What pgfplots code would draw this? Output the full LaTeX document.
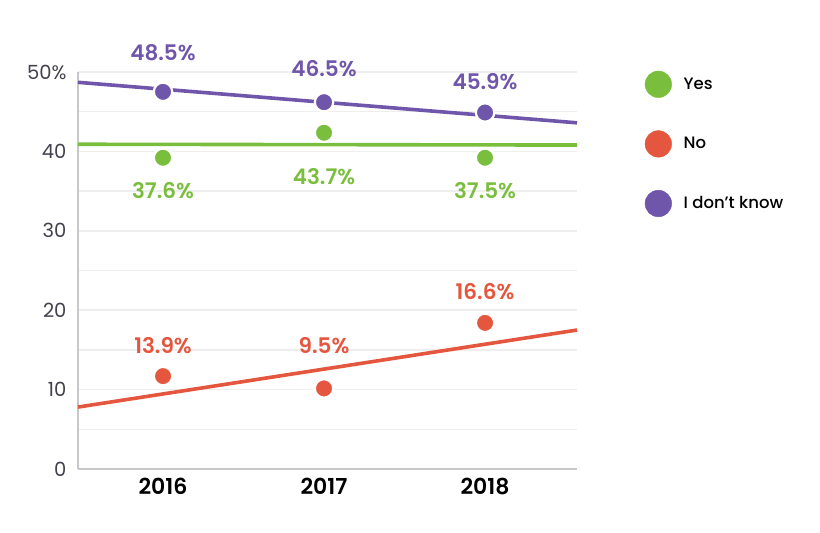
\documentclass[border=0pt]{standalone}
\usepackage{fontspec}
\setmainfont{Poppins}
\newfontfamily\semib{Poppins SemiBold}
\newfontfamily\med{Poppins Medium}
\usepackage{pgfplots}
\pgfplotsset{compat=1.18}

\definecolor{cyes}{RGB}{122,190,62}
\definecolor{cno}{RGB}{229,86,62}
\definecolor{cidk}{RGB}{111,86,170}
\definecolor{axisgray}{RGB}{200,200,200}
\definecolor{gridgray}{RGB}{238,238,238}
\definecolor{ticklab}{RGB}{66,66,78}

\begin{document}
\begin{tikzpicture}
\begin{axis}[
  scale only axis, width=499pt, height=397pt, % plot box as in the image
  xmin=-0.528, xmax=2.571, ymin=0, ymax=50,
  axis x line=bottom, axis y line=left,
  axis line style={-, draw=axisgray, line width=1.6pt},
  xtick={0,1,2}, xticklabels={2016,2017,2018},
  ytick={0,10,20,30,40,50}, yticklabels={0,10,20,30,40,50\%},
  minor ytick={5,15,25,35,45},
  major tick length=0pt, minor tick length=0pt,
  ymajorgrids, yminorgrids,
  grid style={draw=gridgray, line width=1.5pt},
  minor grid style={draw=gridgray, line width=1.5pt},
  /pgf/number format/assume math mode=true,
  yticklabel style={font=\fontsize{19.5}{21}\selectfont, text=ticklab, anchor=east, xshift=-8pt},
  xticklabel style={font=\semib\fontsize{22}{24}\selectfont, text=black, yshift=-6pt},
  clip=false,
  legend cell align=left,
  legend image code/.code={\draw[#1, mark size=13.3pt, mark options={draw=none}] plot coordinates {(0pt,0pt)};},
  legend style={draw=none, fill=none, at={(1.136,1.003)}, anchor=north west,
    inner sep=0pt, row sep=33pt, column sep=12pt,
    font=\med\fontsize{16.5}{18}\selectfont, nodes={inner sep=0pt}},
]
% trend lines
\addplot[forget plot, cidk, line width=3.6pt] coordinates {(-0.528,48.7) (2.571,43.6)};
\addplot[forget plot, cyes, line width=3.6pt] coordinates {(-0.528,40.9) (2.571,40.8)};
\addplot[forget plot, cno, line width=3.6pt] coordinates {(-0.528,7.8) (2.571,17.5)};

% points
\addplot[only marks, mark=*, color=cyes, mark size=9.2pt, mark options={draw=white, line width=2.2pt}]
  coordinates {(0,39.2) (1,42.35) (2,39.2)};
\addlegendentry{Yes}
\addplot[only marks, mark=*, color=cno, mark size=9.2pt, mark options={draw=white, line width=2.2pt}]
  coordinates {(0,11.7) (1,10.15) (2,18.4)};
\addlegendentry{No}
\addplot[only marks, mark=*, color=cidk, mark size=9.2pt, mark options={draw=white, line width=2.2pt}]
  coordinates {(0,47.5) (1,46.2) (2,44.9)};
\addlegendentry{I don’t know}

% value labels
\begin{scope}[every node/.style={font=\semib\fontsize{21.5}{23}\selectfont}]
\node[text=cidk] at (axis cs:0,52.45) {48.5\%};
\node[text=cidk] at (axis cs:1,50.4) {46.5\%};
\node[text=cidk] at (axis cs:2,48.8) {45.9\%};
\node[text=cyes] at (axis cs:0,35.1) {37.6\%};
\node[text=cyes] at (axis cs:1,36.85) {43.7\%};
\node[text=cyes] at (axis cs:2,35.1) {37.5\%};
\node[text=cno] at (axis cs:0,15.6) {13.9\%};
\node[text=cno] at (axis cs:1,15.5) {9.5\%};
\node[text=cno] at (axis cs:2,22.3) {16.6\%};
\end{scope}
\end{axis}
\pgfresetboundingbox
\path (-78pt,-64pt) rectangle (742pt,469pt);
\end{tikzpicture}
\end{document}
